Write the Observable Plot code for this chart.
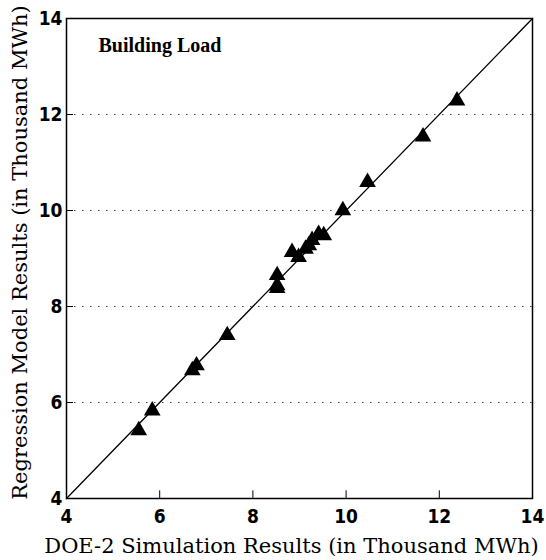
<!DOCTYPE html>
<html><head><meta charset="utf-8">
<script src="https://cdn.jsdelivr.net/npm/d3@7"></script>
<script src="https://cdn.jsdelivr.net/npm/@observablehq/plot@0.6"></script>
<style>
body{margin:0;background:#fff}
#chart svg{background:#fff}
</style>
</head><body><div id="chart"></div>
<script>
// DOE-2 simulated vs regression-model building load (thousand MWh)
const simulation = [5.55, 5.84, 6.70, 6.79, 7.45, 8.52, 8.52, 8.52, 8.84, 8.98, 9.13, 9.20, 9.27, 9.41, 9.52, 9.93, 10.46, 11.65, 12.38];
const regression = [5.42, 5.83, 6.67, 6.77, 7.40, 8.38, 8.44, 8.65, 9.13, 9.03, 9.20, 9.27, 9.38, 9.51, 9.48, 10.00, 10.59, 11.54, 12.29];
const xTicks = [4, 6, 8, 10, 12, 14];
const yTicks = [4, 6, 8, 10, 12, 14];
const gridValues = [6, 8, 10, 12];
const axisDomain = [4, 14];
const panelTitle = "Building Load";
const xTitle = "DOE-2 Simulation Results (in Thousand MWh)";
const yTitle = "Regression Model Results (in Thousand MWh)";

const points = simulation.map((s, i) => ({sim: s, reg: regression[i]}));
const diagonal = axisDomain.map(v => ({sim: v, reg: v}));

const tickFont = "'Liberation Sans Narrow', 'DejaVu Sans Condensed', 'Liberation Sans', sans-serif";
const serif = "'DejaVu Serif', 'Liberation Serif', serif";
const titleSerif = "'Liberation Serif', 'DejaVu Serif', serif";

const chart = Plot.plot({
  width: 546,
  height: 560,
  marginLeft: 66,
  marginRight: 14,
  marginTop: 18,
  marginBottom: 62,
  x: {domain: axisDomain},
  y: {domain: axisDomain},
  style: {background: "#fff", color: "#000"},
  marks: [
    Plot.ruleY(gridValues, {stroke: "#444", strokeWidth: 1.2, strokeDasharray: "1.5,6.5"}),
    Plot.ruleY(yTicks, {x1: axisDomain[0], x2: axisDomain[0] + 0.15, stroke: "#000"}),
    Plot.ruleX(xTicks, {y1: axisDomain[0], y2: axisDomain[0] + 0.16, stroke: "#000"}),
    Plot.line(diagonal, {x: "sim", y: "reg", stroke: "#000", strokeWidth: 1.3}),
    Plot.frame({stroke: "#000", strokeWidth: 1.5}),
    Plot.axisX({ticks: xTicks, tickSize: 0, tickPadding: 11, label: null, fontSize: 19, fontWeight: "bold", fontFamily: tickFont}),
    Plot.axisY({ticks: yTicks, tickSize: 0, tickPadding: 4, label: null, fontSize: 19, fontWeight: "bold", fontFamily: tickFont}),
    Plot.dot(points, {x: "sim", y: "reg", symbol: "triangle", r: 6.2, fill: "#000", stroke: "none"}),
    Plot.text([panelTitle], {frameAnchor: "top-left", dx: 32, dy: 27, textAnchor: "start", lineAnchor: "middle", fontSize: 20, fontWeight: "bold", fontFamily: titleSerif, fill: "#000"}),
    Plot.text([xTitle], {frameAnchor: "bottom", dx: -8, dy: 48, textAnchor: "middle", lineAnchor: "middle", fontSize: 21, fontFamily: serif, fill: "#000"}),
    Plot.text([yTitle], {frameAnchor: "left", dx: -46, dy: -6, rotate: -90, textAnchor: "middle", lineAnchor: "middle", fontSize: 21, fontFamily: serif, fill: "#000"})
  ]
});
document.getElementById("chart").appendChild(chart);
</script>
</body></html>
